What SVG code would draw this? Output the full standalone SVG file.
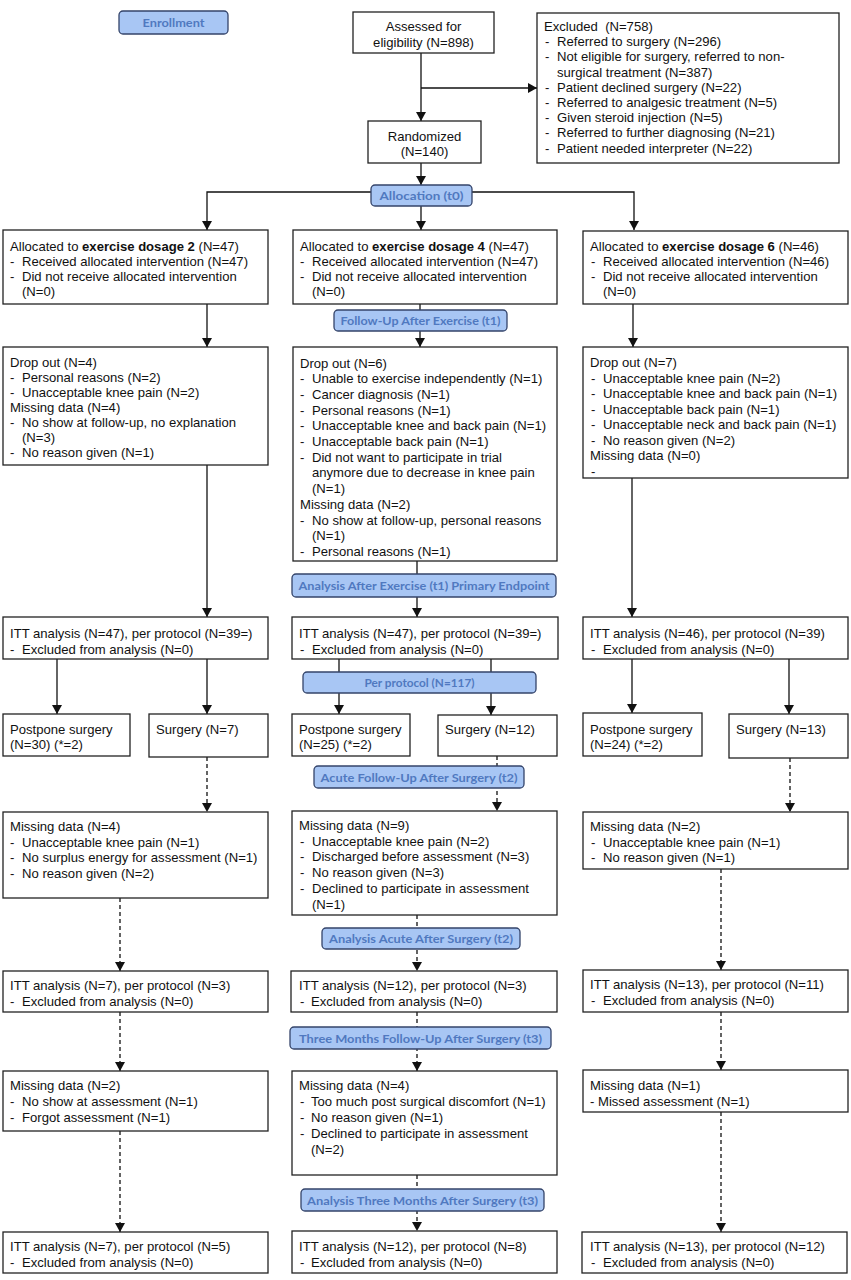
<svg xmlns="http://www.w3.org/2000/svg" width="851" height="1280" viewBox="0 0 851 1280">
<defs>
<marker id="ah" markerWidth="9" markerHeight="10" refX="9" refY="5" orient="auto" markerUnits="userSpaceOnUse" viewBox="0 0 9 10"><path d="M0,0 L9,5 L0,10 z" fill="#111"/></marker>
<style>
.box{fill:#fff;stroke:#222;stroke-width:1.3}
.t{font-family:"Liberation Sans",Arial,sans-serif;font-size:13.1px;fill:#111}
.m{text-anchor:middle}
.ban rect{fill:#a8c6f4;stroke:#34446a;stroke-width:1.3}
.bt{font-family:Lato,"Open Sans",sans-serif;font-weight:bold;font-size:12px;fill:#5079c0;text-anchor:middle}
.c{stroke:#111;stroke-width:1.3;fill:none}
.d{stroke-dasharray:4 3}
.a{marker-end:url(#ah)}
</style>
</defs>
<rect width="851" height="1280" fill="#fff"/>

<g id="connectors">
<line class="c a" x1="421" y1="53" x2="421" y2="121"/>
<line class="c a" x1="421" y1="88" x2="537" y2="88"/>
<line class="c a" x1="421" y1="163" x2="421" y2="185"/>
<line class="c a" x1="421" y1="206" x2="421" y2="230"/>
<polyline class="c a" points="371,192 207,192 207,230"/>
<polyline class="c a" points="472,192 634,192 634,230"/>
<line class="c a" x1="207" y1="304" x2="207" y2="347"/>
<line class="c a" x1="420" y1="304" x2="420" y2="347"/>
<line class="c a" x1="633" y1="304" x2="633" y2="347"/>
<line class="c a" x1="207" y1="465" x2="207" y2="617"/>
<line class="c a" x1="417" y1="561" x2="417" y2="617"/>
<line class="c a" x1="632" y1="478" x2="632" y2="617"/>
<line class="c a" x1="57" y1="659" x2="57" y2="714"/>
<line class="c a" x1="207" y1="659" x2="207" y2="714"/>
<line class="c a" x1="339" y1="659" x2="339" y2="714"/>
<line class="c a" x1="491" y1="659" x2="491" y2="715"/>
<line class="c a" x1="632" y1="659" x2="632" y2="713"/>
<line class="c a" x1="789" y1="659" x2="789" y2="714"/>
<line class="c d a" x1="207" y1="757" x2="207" y2="812"/>
<line class="c d a" x1="497" y1="756" x2="497" y2="811"/>
<line class="c d a" x1="790" y1="758" x2="790" y2="812"/>
<line class="c d a" x1="120" y1="898" x2="120" y2="971"/>
<line class="c d a" x1="417" y1="915" x2="417" y2="971"/>
<line class="c d a" x1="721" y1="869" x2="721" y2="970"/>
<line class="c d a" x1="120" y1="1012" x2="120" y2="1071"/>
<line class="c d a" x1="417" y1="1012" x2="417" y2="1071"/>
<line class="c d a" x1="721" y1="1012" x2="721" y2="1070"/>
<line class="c d a" x1="120" y1="1131" x2="120" y2="1232"/>
<line class="c d a" x1="417" y1="1175" x2="417" y2="1231"/>
<line class="c d a" x1="721" y1="1112" x2="721" y2="1232"/>
</g>

<g id="banner-enrollment" class="ban"><rect x="119" y="11" width="109" height="23" rx="4"/><text class="bt" x="173.5" y="27" textLength="62" lengthAdjust="spacingAndGlyphs">Enrollment</text></g>
<g id="banner-allocation" class="ban"><rect x="371" y="185" width="101" height="21" rx="4"/><text class="bt" x="421.5" y="200" textLength="84" lengthAdjust="spacingAndGlyphs">Allocation (t0)</text></g>
<g id="banner-followup-t1" class="ban"><rect x="334" y="310" width="173" height="21" rx="4"/><text class="bt" x="420.5" y="325" textLength="160" lengthAdjust="spacingAndGlyphs">Follow-Up After Exercise (t1)</text></g>
<g id="banner-analysis-t1" class="ban"><rect x="292" y="574" width="264" height="23" rx="4"/><text class="bt" x="424" y="590" textLength="251" lengthAdjust="spacingAndGlyphs">Analysis After Exercise (t1) Primary Endpoint</text></g>
<g id="banner-per-protocol" class="ban"><rect x="303" y="672" width="233" height="21" rx="4"/><text class="bt" x="419.5" y="687" textLength="110" lengthAdjust="spacingAndGlyphs">Per protocol (N=117)</text></g>
<g id="banner-acute-followup" class="ban"><rect x="314" y="766" width="210" height="22" rx="4"/><text class="bt" x="419" y="781.5" textLength="197" lengthAdjust="spacingAndGlyphs">Acute Follow-Up After Surgery (t2)</text></g>
<g id="banner-analysis-acute" class="ban"><rect x="322" y="928" width="198" height="21" rx="4"/><text class="bt" x="421" y="943" textLength="184" lengthAdjust="spacingAndGlyphs">Analysis Acute After Surgery (t2)</text></g>
<g id="banner-three-months" class="ban"><rect x="290" y="1027" width="261" height="22" rx="4"/><text class="bt" x="420.5" y="1042.5" textLength="243" lengthAdjust="spacingAndGlyphs">Three Months Follow-Up After Surgery (t3)</text></g>
<g id="banner-analysis-three" class="ban"><rect x="301" y="1189" width="243" height="22" rx="4"/><text class="bt" x="422.5" y="1204.5" textLength="231" lengthAdjust="spacingAndGlyphs">Analysis Three Months After Surgery (t3)</text></g>

<g id="assessed"><rect class="box" x="353" y="12" width="141" height="41"/>
<text class="t m" x="423.5" y="31">Assessed for</text><text class="t m" x="423.5" y="47">eligibility (N=898)</text></g>

<g id="excluded"><rect class="box" x="537" y="13" width="302" height="150"/>
<text class="t" x="544" y="31">Excluded&#160; (N=758)</text>
<text class="t" y="46.2"><tspan x="545">-</tspan><tspan x="557">Referred to surgery (N=296)</tspan></text>
<text class="t" y="61.4"><tspan x="545">-</tspan><tspan x="557">Not eligible for surgery, referred to non-</tspan></text>
<text class="t" x="557" y="76.6">surgical treatment (N=387)</text>
<text class="t" y="91.8"><tspan x="545">-</tspan><tspan x="557">Patient declined surgery (N=22)</tspan></text>
<text class="t" y="107"><tspan x="545">-</tspan><tspan x="557">Referred to analgesic treatment (N=5)</tspan></text>
<text class="t" y="122.2"><tspan x="545">-</tspan><tspan x="557">Given steroid injection (N=5)</tspan></text>
<text class="t" y="137.4"><tspan x="545">-</tspan><tspan x="557">Referred to further diagnosing (N=21)</tspan></text>
<text class="t" y="152.6"><tspan x="545">-</tspan><tspan x="557">Patient needed interpreter (N=22)</tspan></text></g>

<g id="randomized"><rect class="box" x="368" y="121" width="113" height="42"/>
<text class="t m" x="424.5" y="140.5">Randomized</text><text class="t m" x="424.5" y="156">(N=140)</text></g>

<g id="alloc-2"><rect class="box" x="3" y="230" width="265" height="74"/>
<text class="t" x="10" y="251">Allocated to <tspan font-weight="bold">exercise dosage 2</tspan> (N=47)</text>
<text class="t" y="266"><tspan x="10">-</tspan><tspan x="22">Received allocated intervention (N=47)</tspan></text>
<text class="t" y="281"><tspan x="10">-</tspan><tspan x="22">Did not receive allocated intervention</tspan></text>
<text class="t" x="22" y="296">(N=0)</text></g>

<g id="alloc-4"><rect class="box" x="293" y="230" width="264" height="74"/>
<text class="t" x="300" y="251">Allocated to <tspan font-weight="bold">exercise dosage 4</tspan> (N=47)</text>
<text class="t" y="266"><tspan x="300">-</tspan><tspan x="312">Received allocated intervention (N=47)</tspan></text>
<text class="t" y="281"><tspan x="300">-</tspan><tspan x="312">Did not receive allocated intervention</tspan></text>
<text class="t" x="312" y="296">(N=0)</text></g>

<g id="alloc-6"><rect class="box" x="583" y="231" width="265" height="73"/>
<text class="t" x="590" y="251">Allocated to <tspan font-weight="bold">exercise dosage 6</tspan> (N=46)</text>
<text class="t" y="266"><tspan x="591">-</tspan><tspan x="603">Received allocated intervention (N=46)</tspan></text>
<text class="t" y="281"><tspan x="591">-</tspan><tspan x="603">Did not receive allocated intervention</tspan></text>
<text class="t" x="603" y="296">(N=0)</text></g>

<g id="dropout-2"><rect class="box" x="3" y="347" width="265" height="118"/>
<text class="t" x="10" y="367">Drop out (N=4)</text>
<text class="t" y="382"><tspan x="10">-</tspan><tspan x="22">Personal reasons (N=2)</tspan></text>
<text class="t" y="397"><tspan x="10">-</tspan><tspan x="22">Unacceptable knee pain (N=2)</tspan></text>
<text class="t" x="10" y="412">Missing data (N=4)</text>
<text class="t" y="427"><tspan x="10">-</tspan><tspan x="22">No show at follow-up, no explanation</tspan></text>
<text class="t" x="22" y="442">(N=3)</text>
<text class="t" y="457"><tspan x="10">-</tspan><tspan x="22">No reason given (N=1)</tspan></text></g>

<g id="dropout-4"><rect class="box" x="293" y="347" width="264" height="214"/>
<text class="t" x="300" y="367.5">Drop out (N=6)</text>
<text class="t" y="383.2"><tspan x="300">-</tspan><tspan x="312">Unable to exercise independently (N=1)</tspan></text>
<text class="t" y="398.9"><tspan x="300">-</tspan><tspan x="312">Cancer diagnosis (N=1)</tspan></text>
<text class="t" y="414.6"><tspan x="300">-</tspan><tspan x="312">Personal reasons (N=1)</tspan></text>
<text class="t" y="430.3"><tspan x="300">-</tspan><tspan x="312">Unacceptable knee and back pain (N=1)</tspan></text>
<text class="t" y="446"><tspan x="300">-</tspan><tspan x="312">Unacceptable back pain (N=1)</tspan></text>
<text class="t" y="461.7"><tspan x="300">-</tspan><tspan x="312">Did not want to participate in trial</tspan></text>
<text class="t" x="312" y="477.4">anymore due to decrease in knee pain</text>
<text class="t" x="312" y="493.1">(N=1)</text>
<text class="t" x="300" y="508.8">Missing data (N=2)</text>
<text class="t" y="524.5"><tspan x="300">-</tspan><tspan x="312">No show at follow-up, personal reasons</tspan></text>
<text class="t" x="312" y="540.2">(N=1)</text>
<text class="t" y="555.9"><tspan x="300">-</tspan><tspan x="312">Personal reasons (N=1)</tspan></text></g>

<g id="dropout-6"><rect class="box" x="583" y="347" width="265" height="131"/>
<text class="t" x="590" y="367">Drop out (N=7)</text>
<text class="t" y="382.5"><tspan x="591">-</tspan><tspan x="603">Unacceptable knee pain (N=2)</tspan></text>
<text class="t" y="398"><tspan x="591">-</tspan><tspan x="603">Unacceptable knee and back pain (N=1)</tspan></text>
<text class="t" y="413.5"><tspan x="591">-</tspan><tspan x="603">Unacceptable back pain (N=1)</tspan></text>
<text class="t" y="429"><tspan x="591">-</tspan><tspan x="603">Unacceptable neck and back pain (N=1)</tspan></text>
<text class="t" y="444.5"><tspan x="591">-</tspan><tspan x="603">No reason given (N=2)</tspan></text>
<text class="t" x="590" y="460">Missing data (N=0)</text>
<text class="t" x="591" y="475.5">-</text></g>

<g id="itt1-2"><rect class="box" x="3" y="617" width="265" height="42"/>
<text class="t" x="10" y="637.5">ITT analysis (N=47), per protocol (N=39=)</text>
<text class="t" y="653.5"><tspan x="10">-</tspan><tspan x="22">Excluded from analysis (N=0)</tspan></text></g>
<g id="itt1-4"><rect class="box" x="292" y="617" width="266" height="42"/>
<text class="t" x="299" y="637.5">ITT analysis (N=47), per protocol (N=39=)</text>
<text class="t" y="653.5"><tspan x="300">-</tspan><tspan x="312">Excluded from analysis (N=0)</tspan></text></g>
<g id="itt1-6"><rect class="box" x="583" y="617" width="265" height="42"/>
<text class="t" x="590" y="637.5">ITT analysis (N=46), per protocol (N=39)</text>
<text class="t" y="653.5"><tspan x="591">-</tspan><tspan x="603">Excluded from analysis (N=0)</tspan></text></g>

<g id="postpone-2"><rect class="box" x="3" y="714" width="127" height="42"/>
<text class="t" x="10" y="733.5">Postpone surgery</text><text class="t" x="10" y="749">(N=30) (*=2)</text></g>
<g id="surgery-2"><rect class="box" x="149" y="714" width="119" height="43"/>
<text class="t" x="156" y="733.5">Surgery (N=7)</text></g>
<g id="postpone-4"><rect class="box" x="292" y="714" width="118" height="42"/>
<text class="t" x="299" y="733.5">Postpone surgery</text><text class="t" x="299" y="749">(N=25) (*=2)</text></g>
<g id="surgery-4"><rect class="box" x="438" y="715" width="119" height="41"/>
<text class="t" x="445" y="733.5">Surgery (N=12)</text></g>
<g id="postpone-6"><rect class="box" x="583" y="713" width="119" height="43"/>
<text class="t" x="590" y="733.5">Postpone surgery</text><text class="t" x="590" y="749">(N=24) (*=2)</text></g>
<g id="surgery-6"><rect class="box" x="729" y="714" width="119" height="44"/>
<text class="t" x="736" y="733.5">Surgery (N=13)</text></g>

<g id="missing2-2"><rect class="box" x="3" y="812" width="265" height="86"/>
<text class="t" x="10" y="831">Missing data (N=4)</text>
<text class="t" y="846.6"><tspan x="10">-</tspan><tspan x="22">Unacceptable knee pain (N=1)</tspan></text>
<text class="t" y="862.2"><tspan x="10">-</tspan><tspan x="22">No surplus energy for assessment (N=1)</tspan></text>
<text class="t" y="877.8"><tspan x="10">-</tspan><tspan x="22">No reason given (N=2)</tspan></text></g>
<g id="missing2-4"><rect class="box" x="292" y="811" width="265" height="104"/>
<text class="t" x="299" y="830">Missing data (N=9)</text>
<text class="t" y="845.7"><tspan x="300">-</tspan><tspan x="312">Unacceptable knee pain (N=2)</tspan></text>
<text class="t" y="861.4"><tspan x="300">-</tspan><tspan x="312">Discharged before assessment (N=3)</tspan></text>
<text class="t" y="877.1"><tspan x="300">-</tspan><tspan x="312">No reason given (N=3)</tspan></text>
<text class="t" y="892.8"><tspan x="300">-</tspan><tspan x="312">Declined to participate in assessment</tspan></text>
<text class="t" x="312" y="908.5">(N=1)</text></g>
<g id="missing2-6"><rect class="box" x="583" y="812" width="265" height="57"/>
<text class="t" x="590" y="831">Missing data (N=2)</text>
<text class="t" y="846.6"><tspan x="591">-</tspan><tspan x="603">Unacceptable knee pain (N=1)</tspan></text>
<text class="t" y="862.2"><tspan x="591">-</tspan><tspan x="603">No reason given (N=1)</tspan></text></g>

<g id="itt2-2"><rect class="box" x="3" y="971" width="265" height="41"/>
<text class="t" x="10" y="989.5">ITT analysis (N=7), per protocol (N=3)</text>
<text class="t" y="1005.5"><tspan x="10">-</tspan><tspan x="22">Excluded from analysis (N=0)</tspan></text></g>
<g id="itt2-4"><rect class="box" x="291" y="971" width="266" height="41"/>
<text class="t" x="299" y="989.5">ITT analysis (N=12), per protocol (N=3)</text>
<text class="t" y="1005.5"><tspan x="300">-</tspan><tspan x="311">Excluded from analysis (N=0)</tspan></text></g>
<g id="itt2-6"><rect class="box" x="583" y="970" width="265" height="42"/>
<text class="t" x="590" y="989">ITT analysis (N=13), per protocol (N=11)</text>
<text class="t" y="1005"><tspan x="591">-</tspan><tspan x="603">Excluded from analysis (N=0)</tspan></text></g>

<g id="missing3-2"><rect class="box" x="3" y="1071" width="265" height="60"/>
<text class="t" x="10" y="1089.5">Missing data (N=2)</text>
<text class="t" y="1105.5"><tspan x="10">-</tspan><tspan x="22">No show at assessment (N=1)</tspan></text>
<text class="t" y="1121.5"><tspan x="10">-</tspan><tspan x="22">Forgot assessment (N=1)</tspan></text></g>
<g id="missing3-4"><rect class="box" x="292" y="1071" width="265" height="104"/>
<text class="t" x="299" y="1089.5">Missing data (N=4)</text>
<text class="t" y="1105.5"><tspan x="300">-</tspan><tspan x="311">Too much post surgical discomfort (N=1)</tspan></text>
<text class="t" y="1121.5"><tspan x="300">-</tspan><tspan x="311">No reason given (N=1)</tspan></text>
<text class="t" y="1137.5"><tspan x="300">-</tspan><tspan x="311">Declined to participate in assessment</tspan></text>
<text class="t" x="311" y="1153.5">(N=2)</text></g>
<g id="missing3-6"><rect class="box" x="583" y="1070" width="265" height="42"/>
<text class="t" x="590" y="1089.5">Missing data (N=1)</text>
<text class="t" x="590" y="1105.5">- Missed assessment (N=1)</text></g>

<g id="itt3-2"><rect class="box" x="3" y="1232" width="265" height="41"/>
<text class="t" x="10" y="1250.5">ITT analysis (N=7), per protocol (N=5)</text>
<text class="t" y="1266.5"><tspan x="10">-</tspan><tspan x="22">Excluded from analysis (N=0)</tspan></text></g>
<g id="itt3-4"><rect class="box" x="292" y="1231" width="265" height="42"/>
<text class="t" x="299" y="1250.5">ITT analysis (N=12), per protocol (N=8)</text>
<text class="t" y="1266.5"><tspan x="300">-</tspan><tspan x="311">Excluded from analysis (N=0)</tspan></text></g>
<g id="itt3-6"><rect class="box" x="582" y="1232" width="265" height="41"/>
<text class="t" x="590" y="1250.5">ITT analysis (N=13), per protocol (N=12)</text>
<text class="t" y="1266.5"><tspan x="591">-</tspan><tspan x="603">Excluded from analysis (N=0)</tspan></text></g>
</svg>
